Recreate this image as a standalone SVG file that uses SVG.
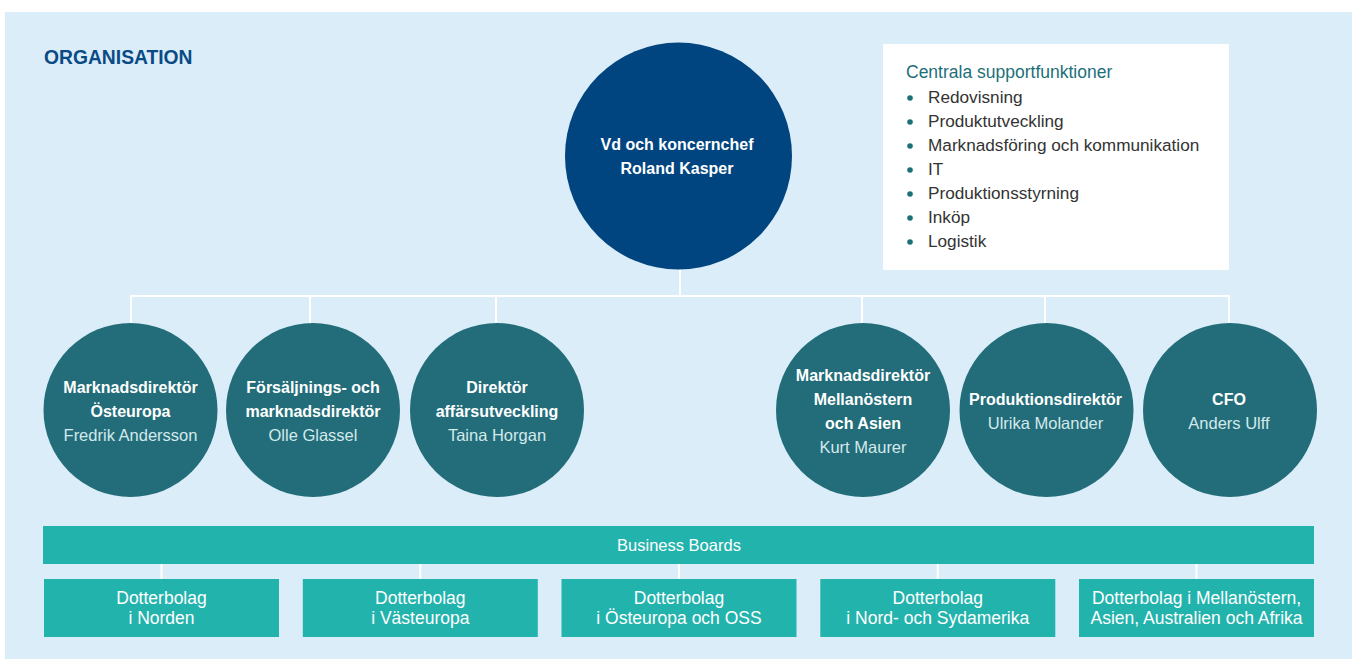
<svg xmlns="http://www.w3.org/2000/svg" width="1352" height="659" viewBox="0 0 1352 659">
<style>
.bg{fill:#daedf8}
.ceo{fill:#00457f}
.dir{fill:#226d79}
.teal{fill:#23b3ad}
.conn line{stroke:#ffffff;stroke-width:2}
text{font-family:"Liberation Sans",Arial,sans-serif}
.t{fill:#ffffff;font-weight:bold;font-size:16px;text-anchor:middle}
.n{fill:#d4e9ec;font-size:16.5px;text-anchor:middle}
.b{fill:#ffffff;font-size:17.5px;text-anchor:middle}
.li{fill:#333333;font-size:17.2px}
.dot{fill:#1d6f79}
</style>
<rect class="bg" x="5" y="12" width="1347" height="647"/>
<text x="44" y="64" style="font-size:19.3px;font-weight:bold;fill:#0a4a85">ORGANISATION</text>

<g id="support">
<rect x="883" y="44" width="346" height="226" fill="#ffffff"/>
<text x="906" y="78" style="font-size:17.5px;fill:#1d6f79">Centrala supportfunktioner</text>
<circle class="dot" cx="910" cy="98" r="2.8"/><text class="li" x="928" y="103">Redovisning</text>
<circle class="dot" cx="910" cy="122" r="2.8"/><text class="li" x="928" y="127">Produktutveckling</text>
<circle class="dot" cx="910" cy="146" r="2.8"/><text class="li" x="928" y="151">Marknadsföring och kommunikation</text>
<circle class="dot" cx="910" cy="170" r="2.8"/><text class="li" x="928" y="175">IT</text>
<circle class="dot" cx="910" cy="194" r="2.8"/><text class="li" x="928" y="199">Produktionsstyrning</text>
<circle class="dot" cx="910" cy="218" r="2.8"/><text class="li" x="928" y="223">Inköp</text>
<circle class="dot" cx="910" cy="242" r="2.8"/><text class="li" x="928" y="247">Logistik</text>
</g>

<g id="connectors" class="conn">
<line x1="680" y1="265" x2="680" y2="296"/>
<line x1="130" y1="296" x2="1230" y2="296"/>
<line x1="131" y1="296" x2="131" y2="326"/>
<line x1="310" y1="296" x2="310" y2="326"/>
<line x1="496" y1="296" x2="496" y2="326"/>
<line x1="862" y1="296" x2="862" y2="326"/>
<line x1="1045" y1="296" x2="1045" y2="326"/>
<line x1="1229" y1="296" x2="1229" y2="326"/>
<line x1="161.5" y1="562" x2="161.5" y2="581"/>
<line x1="420.3" y1="562" x2="420.3" y2="581"/>
<line x1="679" y1="562" x2="679" y2="581"/>
<line x1="937.8" y1="562" x2="937.8" y2="581"/>
<line x1="1196.5" y1="562" x2="1196.5" y2="581"/>
</g>

<g id="ceo">
<circle class="ceo" cx="678.5" cy="156" r="113.5"/>
<text class="t" x="677" y="150">Vd och koncernchef</text>
<text class="t" x="677" y="174">Roland Kasper</text>
</g>

<g id="dir1">
<circle class="dir" cx="130.5" cy="410" r="87"/>
<text class="t" x="130.5" y="393">Marknadsdirektör</text>
<text class="t" x="130.5" y="417">Östeuropa</text>
<text class="n" x="130.5" y="441">Fredrik Andersson</text>
</g>
<g id="dir2">
<circle class="dir" cx="313" cy="410" r="87"/>
<text class="t" x="313" y="393">Försäljnings- och</text>
<text class="t" x="313" y="417">marknadsdirektör</text>
<text class="n" x="313" y="441">Olle Glassel</text>
</g>
<g id="dir3">
<circle class="dir" cx="497" cy="410" r="87"/>
<text class="t" x="497" y="393">Direktör</text>
<text class="t" x="497" y="417">affärsutveckling</text>
<text class="n" x="497" y="441">Taina Horgan</text>
</g>
<g id="dir4">
<circle class="dir" cx="863" cy="410" r="87"/>
<text class="t" x="863" y="381">Marknadsdirektör</text>
<text class="t" x="863" y="405">Mellanöstern</text>
<text class="t" x="863" y="429">och Asien</text>
<text class="n" x="863" y="453">Kurt Maurer</text>
</g>
<g id="dir5">
<circle class="dir" cx="1046.5" cy="410" r="87"/>
<text class="t" x="1045.5" y="405">Produktionsdirektör</text>
<text class="n" x="1045.5" y="429">Ulrika Molander</text>
</g>
<g id="dir6">
<circle class="dir" cx="1230" cy="410" r="87"/>
<text class="t" x="1229" y="405">CFO</text>
<text class="n" x="1229" y="429">Anders Ulff</text>
</g>

<g id="boards">
<rect class="teal" x="43" y="526" width="1271" height="38"/>
<text x="679" y="551" style="fill:#ffffff;font-size:16.5px;text-anchor:middle">Business Boards</text>
</g>
<g id="sub1">
<rect class="teal" x="44" y="579" width="235" height="58"/>
<text class="b" x="161.5" y="604">Dotterbolag</text>
<text class="b" x="161.5" y="624">i Norden</text>
</g>
<g id="sub2">
<rect class="teal" x="302.8" y="579" width="235" height="58"/>
<text class="b" x="420.3" y="604">Dotterbolag</text>
<text class="b" x="420.3" y="624">i Västeuropa</text>
</g>
<g id="sub3">
<rect class="teal" x="561.5" y="579" width="235" height="58"/>
<text class="b" x="679" y="604">Dotterbolag</text>
<text class="b" x="679" y="624">i Östeuropa och OSS</text>
</g>
<g id="sub4">
<rect class="teal" x="820.3" y="579" width="235" height="58"/>
<text class="b" x="937.8" y="604">Dotterbolag</text>
<text class="b" x="937.8" y="624">i Nord- och Sydamerika</text>
</g>
<g id="sub5">
<rect class="teal" x="1079" y="579" width="235" height="58"/>
<text class="b" x="1196.5" y="604">Dotterbolag i Mellanöstern,</text>
<text class="b" x="1196.5" y="624">Asien, Australien och Afrika</text>
</g>
</svg>
